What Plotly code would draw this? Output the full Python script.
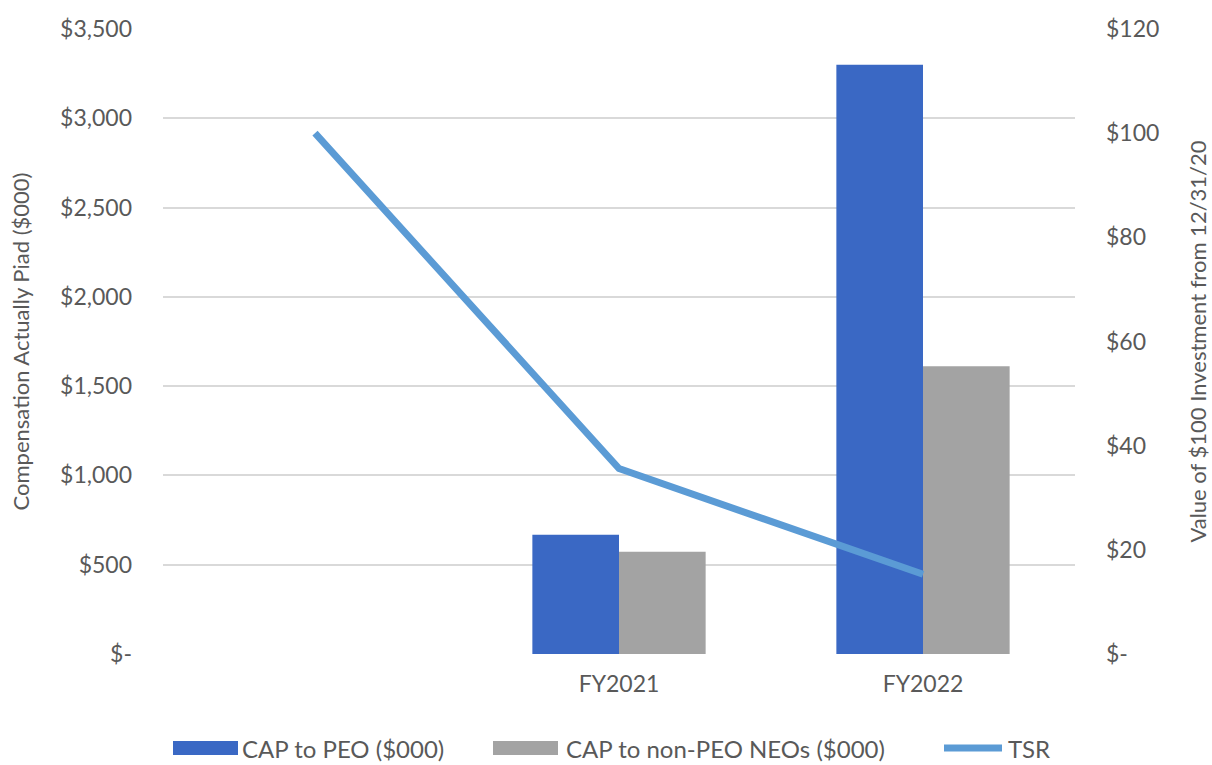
import plotly.graph_objects as go

categories = ["", "FY2021", "FY2022"]
cap_peo = [0, 668, 3300]
cap_non_peo = [0, 572, 1612]
tsr = [100, 35.6, 15.3]

series_names = ["CAP to PEO ($000)", "CAP to non-PEO NEOs ($000)", "TSR"]

left_ticks = [0, 500, 1000, 1500, 2000, 2500, 3000, 3500]
left_labels = ["$-", "$500", "$1,000", "$1,500", "$2,000", "$2,500", "$3,000", "$3,500"]
right_ticks = [0, 20, 40, 60, 80, 100, 120]
right_labels = ["$-", "$20", "$40", "$60", "$80", "$100", "$120"]

xpos = list(range(len(categories)))
FONT = "Lato, Open Sans, sans-serif"
GRAY = "#595959"
C_PEO = "#3a68c4"
C_NEO = "#a3a3a3"
C_TSR = "#5b9bd5"

fig = go.Figure()
fig.add_trace(go.Bar(x=xpos, y=cap_peo, name=series_names[0],
                     marker=dict(color=C_PEO, line=dict(width=0))))
fig.add_trace(go.Bar(x=xpos, y=cap_non_peo, name=series_names[1],
                     marker=dict(color=C_NEO, line=dict(width=0))))
fig.add_trace(go.Scatter(x=xpos, y=tsr, name=series_names[2], yaxis="y2", mode="lines",
                         line=dict(color=C_TSR, width=7)))

# manual legend (pixel -> paper conversion)
L, R, T, B = 163, 1075, 29, 654
def px(x):
    return (x - L) / (R - L)
def py(y):
    return (B - y) / (B - T)

ly = 748
shapes = [
    dict(type="rect", xref="paper", yref="paper", x0=px(173), x1=px(238), y0=py(755), y1=py(741),
         fillcolor=C_PEO, line=dict(width=0)),
    dict(type="rect", xref="paper", yref="paper", x0=px(493), x1=px(558), y0=py(755), y1=py(741),
         fillcolor=C_NEO, line=dict(width=0)),
    dict(type="line", xref="paper", yref="paper", x0=px(944), x1=px(1002), y0=py(ly), y1=py(ly),
         line=dict(color=C_TSR, width=7)),
]
annotations = [
    dict(text=series_names[0], x=px(240), y=py(ly), xref="paper", yref="paper",
         xanchor="left", yanchor="middle", showarrow=False, font=dict(size=24, color=GRAY)),
    dict(text=series_names[1], x=px(564), y=py(ly), xref="paper", yref="paper",
         xanchor="left", yanchor="middle", showarrow=False, font=dict(size=24, color=GRAY)),
    dict(text=series_names[2], x=px(1006), y=py(ly), xref="paper", yref="paper",
         xanchor="left", yanchor="middle", showarrow=False, font=dict(size=24, color=GRAY)),
]

fig.update_layout(
    width=1212, height=765,
    margin=dict(l=L, r=1212 - R, t=T, b=765 - B, autoexpand=False),
    plot_bgcolor="white", paper_bgcolor="white",
    font=dict(family=FONT, size=22, color=GRAY),
    barmode="group", bargap=0.43, bargroupgap=0,
    showlegend=False,
    shapes=shapes, annotations=annotations,
    xaxis=dict(range=[-0.5, 2.5], tickvals=xpos, ticktext=categories,
               showgrid=False, zeroline=False, showline=False, ticks="",
               ticklabelstandoff=14,
               tickfont=dict(size=23, color=GRAY)),
    yaxis=dict(range=[0, 3500], tickvals=left_ticks, ticktext=left_labels,
               showgrid=True, gridcolor="#d9d9d9", gridwidth=1.5, zeroline=False,
               ticks="", ticklabelstandoff=30, tickfont=dict(size=23, color=GRAY),
               title=dict(text="Compensation Actually Piad ($000)", font=dict(size=22, color=GRAY), standoff=24)),
    yaxis2=dict(range=[0, 120], tickvals=right_ticks, ticktext=right_labels,
                overlaying="y", side="right", showgrid=False, zeroline=False,
                ticks="", ticklabelstandoff=30, tickfont=dict(size=23, color=GRAY),
                title=dict(text="Value of $100 Investment from 12/31/20", font=dict(size=22, color=GRAY), standoff=32)),
)

fig.write_html("out.html")
